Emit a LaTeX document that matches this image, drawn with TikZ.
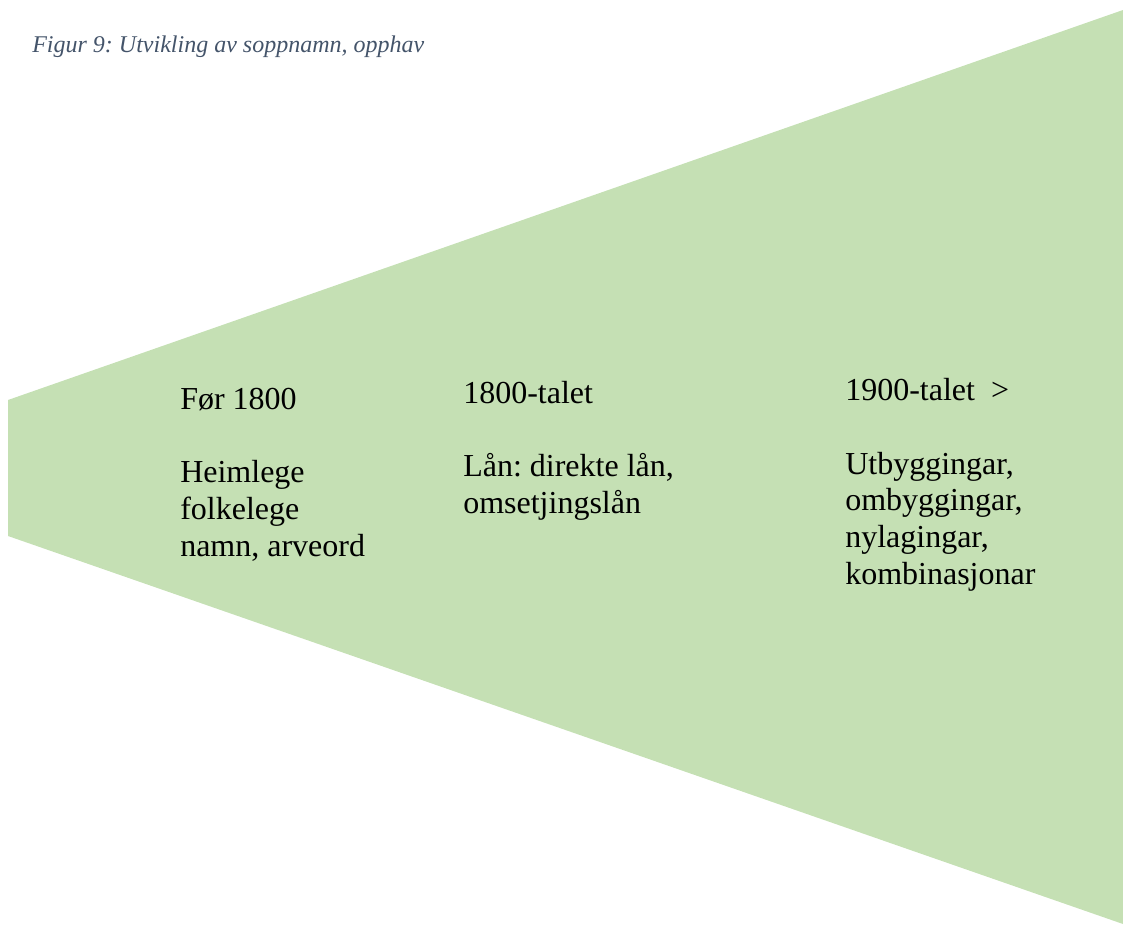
\documentclass[tikz,border=0pt]{standalone}
\usepackage{fontspec}
\setmainfont{Liberation Serif}
\usepackage{xcolor}
\usetikzlibrary{positioning}
\definecolor{leaf}{HTML}{C5E0B4}
\definecolor{capgrey}{HTML}{44546A}
\frenchspacing

\begin{document}
\begin{tikzpicture}[x=0.75pt,y=-0.75pt,
  era/.style={anchor=base west,inner sep=0pt,align=left,
              font=\fontsize{24}{27.5}\selectfont},
  caption/.style={anchor=base west,inner sep=0pt,text=capgrey,
                  font=\fontsize{18}{21}\selectfont\itshape}]
\useasboundingbox (0,0) rectangle (1123,927);
% widening fan
\fill[leaf] (8,400) -- (1123,10) -- (1123,924) -- (8,536) -- cycle;
\node[caption] (cap) at (32,53) {Figur 9: Utvikling av soppnamn, opphav};
% base of each node is its last line
\node[era] (e1) at (180,556) {Før 1800\\[27.5pt]Heimlege\\folkelege\\namn, arveord};
\node[era] (e2) at (463,513) {1800-talet\\[27.5pt]Lån: direkte lån,\\omsetjingslån};
\node[era] (e3) at (845,584) {1900-talet\ \ >\\[27.5pt]Utbyggingar,\\ombyggingar,\\nylagingar,\\kombinasjonar};
\end{tikzpicture}
\end{document}
